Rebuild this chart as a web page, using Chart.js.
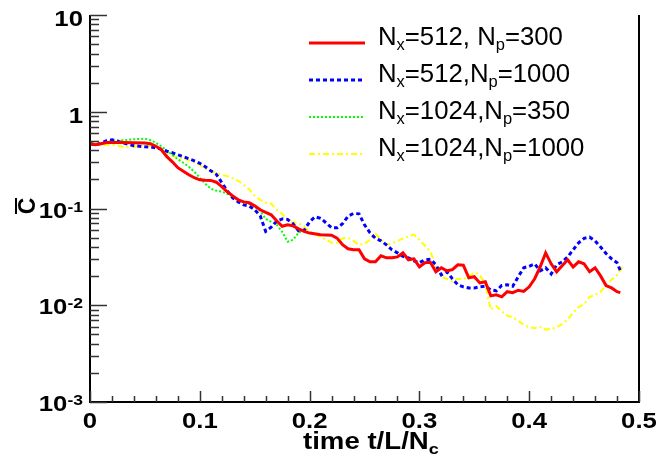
<!DOCTYPE html>
<html>
<head>
<meta charset="utf-8">
<script src="https://cdn.jsdelivr.net/npm/chart.js@4"></script>
<style>
  html, body { margin: 0; padding: 0; background: #fff; }
  #wrap { width: 659px; height: 459px; }
</style>
</head>
<body>
<div id="wrap"><canvas id="corrChart" width="659" height="459"></canvas></div>
<script>
// series labels ( _{..} = subscript )
const seriesLabels = ['N_{x}=512, N_{p}=300', 'N_{x}=512,N_{p}=1000', 'N_{x}=1024,N_{p}=350', 'N_{x}=1024,N_{p}=1000'];
const seriesColors = ['#ff0000', '#0000ff', '#00ff00', '#ffff00'];

const timeRed = [0, 0.005, 0.01, 0.015, 0.02, 0.03, 0.04, 0.05, 0.055, 0.06, 0.065, 0.07, 0.075, 0.08, 0.085, 0.09, 0.095, 0.1, 0.105, 0.11, 0.115, 0.12, 0.125, 0.13, 0.135, 0.14, 0.145, 0.15, 0.155, 0.16, 0.165, 0.17, 0.175, 0.18, 0.185, 0.19, 0.195, 0.2, 0.21, 0.22, 0.225, 0.23, 0.235, 0.24, 0.245, 0.25, 0.255, 0.26, 0.265, 0.27, 0.275, 0.28, 0.285, 0.29, 0.295, 0.3, 0.305, 0.31, 0.315, 0.32, 0.325, 0.33, 0.335, 0.34, 0.345, 0.35, 0.355, 0.36, 0.365, 0.37, 0.375, 0.38, 0.385, 0.39, 0.395, 0.4, 0.405, 0.41, 0.415, 0.42, 0.425, 0.43, 0.435, 0.44, 0.445, 0.45, 0.455, 0.46, 0.465, 0.47, 0.475, 0.48, 0.483];
const corrRed = [0.467, 0.456, 0.467, 0.48, 0.48, 0.48, 0.478, 0.474, 0.467, 0.44, 0.405, 0.343, 0.304, 0.264, 0.243, 0.223, 0.208, 0.198, 0.196, 0.195, 0.187, 0.168, 0.149, 0.135, 0.123, 0.117, 0.1145, 0.1066, 0.097, 0.0914, 0.086, 0.0746, 0.0655, 0.0678, 0.0662, 0.0617, 0.058, 0.0557, 0.0535, 0.053, 0.0494, 0.0422, 0.0383, 0.0374, 0.0374, 0.0302, 0.0281, 0.0281, 0.0324, 0.0309, 0.0309, 0.0316, 0.0348, 0.0295, 0.0302, 0.0249, 0.0275, 0.0278, 0.0222, 0.0244, 0.0227, 0.0233, 0.0262, 0.0259, 0.0192, 0.0197, 0.017, 0.0175, 0.0125, 0.0128, 0.0122, 0.0138, 0.0135, 0.0143, 0.0139, 0.0155, 0.0188, 0.0249, 0.0348, 0.0268, 0.0222, 0.0256, 0.0295, 0.0249, 0.0281, 0.0268, 0.0222, 0.0244, 0.0201, 0.016, 0.0151, 0.0138, 0.0135];

const timeBlue = [0, 0.005, 0.01, 0.015, 0.02, 0.025, 0.03, 0.035, 0.04, 0.045, 0.05, 0.055, 0.06, 0.065, 0.07, 0.075, 0.08, 0.085, 0.09, 0.095, 0.1, 0.105, 0.11, 0.115, 0.12, 0.125, 0.13, 0.135, 0.14, 0.145, 0.15, 0.155, 0.16, 0.165, 0.17, 0.175, 0.18, 0.185, 0.19, 0.195, 0.2, 0.205, 0.21, 0.215, 0.22, 0.225, 0.23, 0.235, 0.24, 0.245, 0.25, 0.255, 0.26, 0.265, 0.27, 0.275, 0.28, 0.285, 0.29, 0.295, 0.3, 0.305, 0.31, 0.315, 0.32, 0.325, 0.33, 0.335, 0.34, 0.345, 0.35, 0.355, 0.36, 0.365, 0.37, 0.375, 0.38, 0.385, 0.39, 0.395, 0.4, 0.405, 0.41, 0.415, 0.42, 0.425, 0.43, 0.435, 0.44, 0.445, 0.45, 0.455, 0.46, 0.465, 0.47, 0.475, 0.48, 0.483];
const corrBlue = [0.467, 0.456, 0.472, 0.501, 0.513, 0.496, 0.478, 0.462, 0.445, 0.44, 0.435, 0.432, 0.424, 0.41, 0.391, 0.377, 0.359, 0.343, 0.327, 0.311, 0.293, 0.27, 0.245, 0.226, 0.185, 0.152, 0.129, 0.117, 0.109, 0.106, 0.097, 0.084, 0.058, 0.064, 0.0738, 0.078, 0.077, 0.0695, 0.0588, 0.0595, 0.0729, 0.082, 0.0793, 0.0711, 0.0632, 0.0632, 0.0695, 0.083, 0.089, 0.088, 0.0678, 0.0561, 0.0492, 0.0463, 0.0421, 0.0374, 0.0348, 0.032, 0.0309, 0.0288, 0.0275, 0.0295, 0.0299, 0.0262, 0.0206, 0.0222, 0.0188, 0.0163, 0.0155, 0.0151, 0.0151, 0.0155, 0.0157, 0.0144, 0.0141, 0.016, 0.0163, 0.0157, 0.0197, 0.0244, 0.0253, 0.0268, 0.0227, 0.0244, 0.0211, 0.0262, 0.0281, 0.0316, 0.0374, 0.0442, 0.0492, 0.0505, 0.0463, 0.040, 0.0342, 0.0302, 0.0275, 0.0228];

const timeGreen = [0, 0.005, 0.01, 0.015, 0.02, 0.025, 0.03, 0.035, 0.04, 0.045, 0.05, 0.055, 0.06, 0.065, 0.07, 0.075, 0.08, 0.085, 0.09, 0.095, 0.1, 0.105, 0.11, 0.115, 0.12, 0.125, 0.13, 0.135, 0.14, 0.145, 0.15, 0.155, 0.16, 0.165, 0.17, 0.175, 0.18, 0.185, 0.19, 0.195];
const corrGreen = [0.472, 0.456, 0.467, 0.49, 0.501, 0.504, 0.507, 0.513, 0.52, 0.523, 0.526, 0.507, 0.478, 0.44, 0.395, 0.359, 0.323, 0.297, 0.27, 0.24, 0.208, 0.18, 0.16, 0.153, 0.149, 0.142, 0.132, 0.123, 0.117, 0.112, 0.104, 0.095, 0.078, 0.0729, 0.068, 0.0575, 0.0453, 0.0475, 0.0562, 0.0604];

const timeYellow = [0, 0.005, 0.01, 0.015, 0.02, 0.025, 0.03, 0.035, 0.04, 0.045, 0.05, 0.055, 0.06, 0.065, 0.07, 0.075, 0.08, 0.085, 0.09, 0.095, 0.1, 0.105, 0.11, 0.115, 0.12, 0.125, 0.13, 0.135, 0.14, 0.145, 0.15, 0.155, 0.16, 0.165, 0.17, 0.175, 0.18, 0.185, 0.19, 0.195, 0.2, 0.205, 0.21, 0.215, 0.22, 0.225, 0.23, 0.235, 0.24, 0.245, 0.25, 0.255, 0.26, 0.265, 0.27, 0.275, 0.28, 0.285, 0.29, 0.295, 0.3, 0.305, 0.31, 0.315, 0.32, 0.325, 0.33, 0.335, 0.34, 0.345, 0.35, 0.355, 0.36, 0.365, 0.37, 0.375, 0.38, 0.385, 0.39, 0.395, 0.4, 0.405, 0.41, 0.415, 0.42, 0.425, 0.43, 0.435, 0.44, 0.445, 0.45, 0.455, 0.46, 0.465, 0.47, 0.475, 0.48, 0.485];
const corrYellow = [0.472, 0.467, 0.45, 0.456, 0.456, 0.445, 0.435, 0.43, 0.435, 0.44, 0.445, 0.445, 0.435, 0.405, 0.368, 0.351, 0.339, 0.327, 0.315, 0.3, 0.283, 0.257, 0.243, 0.234, 0.223, 0.216, 0.205, 0.193, 0.176, 0.158, 0.135, 0.123, 0.1145, 0.112, 0.097, 0.088, 0.0764, 0.072, 0.071, 0.0646, 0.058, 0.054, 0.0513, 0.0476, 0.0443, 0.0443, 0.049, 0.0498, 0.0463, 0.0421, 0.0432, 0.0475, 0.0549, 0.0475, 0.0421, 0.0438, 0.0459, 0.049, 0.0513, 0.0537, 0.0475, 0.0413, 0.0358, 0.0256, 0.0195, 0.0188, 0.0176, 0.0188, 0.0186, 0.0197, 0.0219, 0.0205, 0.0166, 0.009, 0.0098, 0.0086, 0.0078, 0.0075, 0.0069, 0.0063, 0.0059, 0.0058, 0.006, 0.0056, 0.0057, 0.0059, 0.0064, 0.0071, 0.0084, 0.0096, 0.0103, 0.0122, 0.0128, 0.0138, 0.016, 0.0184, 0.0205, 0.025];

// axis ticks
const xTicks = [0, 0.1, 0.2, 0.3, 0.4, 0.5];
const xTickLabels = ['0', '0.1', '0.2', '0.3', '0.4', '0.5'];
const yDecades = [10, 1, 0.1, 0.01, 0.001];
const yTickLabels = [['10', ''], ['1', ''], ['10', '-1'], ['10', '-2'], ['10', '-3']];

const FONT = '"Liberation Sans", Arial, Helvetica, sans-serif';
const STRETCH = 1.17; // bold labels look a bit wider than Arial

function toPoints(xs, ys) {
  return xs.map((x, i) => ({ x: x, y: ys[i] }));
}

// text stretched horizontally, left aligned; returns width
function textS(ctx, t, x, y, sx) {
  ctx.save();
  ctx.translate(x, y);
  ctx.scale(sx, 1);
  ctx.fillText(t, 0, 0);
  ctx.restore();
  return ctx.measureText(t).width * sx;
}

// draw text with _{sub} parts
function drawRich(ctx, str, x, y, size, weight, sx) {
  const parts = str.split(/(_\{[^}]*\})/).filter(s => s.length);
  let cx = x;
  parts.forEach(p => {
    if (p.startsWith('_{')) {
      const t = p.slice(2, -1);
      ctx.font = weight + ' ' + Math.round(size * 0.65) + 'px ' + FONT;
      cx += textS(ctx, t, cx, y + size * 0.2, sx);
    } else {
      ctx.font = weight + ' ' + size + 'px ' + FONT;
      cx += textS(ctx, p, cx, y, sx);
    }
  });
  return cx;
}

const rootFrame = {
  id: 'rootFrame',
  afterDraw(chart) {
    const ctx = chart.ctx;
    const xs = chart.scales.x, ys = chart.scales.y;
    const a = chart.chartArea;
    ctx.save();

    // frame: left, bottom, right
    ctx.strokeStyle = '#000';
    ctx.lineWidth = 2;
    ctx.beginPath();
    ctx.moveTo(a.left, a.top);
    ctx.lineTo(a.left, a.bottom);
    ctx.lineTo(a.right, a.bottom);
    ctx.lineTo(a.right, a.top);
    ctx.stroke();

    // y ticks (inside)
    ctx.strokeStyle = '#333';
    ctx.lineWidth = 1.5;
    ctx.beginPath();
    for (let e = -3; e <= 1; e++) {
      for (let k = 1; k <= 9; k++) {
        const v = k * Math.pow(10, e);
        if (v > 10.0001) continue;
        const py = Math.round(ys.getPixelForValue(v)) + 0.5;
        const len = k === 1 ? 17 : 9;
        ctx.moveTo(a.left, py);
        ctx.lineTo(a.left + len, py);
      }
    }
    // x ticks (upwards)
    for (let i = 0; i <= 25; i++) {
      const v = i * 0.02;
      const px = Math.round(xs.getPixelForValue(v)) + 0.5;
      const len = i % 5 === 0 ? 11 : 6;
      ctx.moveTo(px, a.bottom);
      ctx.lineTo(px, a.bottom - len);
    }
    ctx.stroke();

    ctx.fillStyle = '#000';
    ctx.textAlign = 'left';
    ctx.textBaseline = 'alphabetic';
    // x tick labels
    ctx.font = 'bold 22px ' + FONT;
    xTicks.forEach((v, i) => {
      const w = ctx.measureText(xTickLabels[i]).width * STRETCH;
      textS(ctx, xTickLabels[i], xs.getPixelForValue(v) - w / 2, 428, STRETCH);
    });

    // y tick labels with exponents
    yDecades.forEach((v, i) => {
      const [base, exp] = yTickLabels[i];
      const py = ys.getPixelForValue(v);
      ctx.font = 'bold 22px ' + FONT;
      const wb = ctx.measureText(base).width * STRETCH;
      ctx.font = 'bold 15px ' + FONT;
      const we = exp ? ctx.measureText(exp).width * STRETCH : 0;
      const right = 83;
      const by = py + (exp ? 9 : 11);
      ctx.font = 'bold 22px ' + FONT;
      textS(ctx, base, right - wb - we, by, STRETCH);
      if (exp) {
        ctx.font = 'bold 15px ' + FONT;
        textS(ctx, exp, right - we, by - 6, STRETCH);
      }
    });

    // x title
    drawRich(ctx, 'time t/L/N_{c}', 303, 449, 23, 'bold', 1.2);

    // y title: C with overbar, rotated
    ctx.save();
    ctx.translate(28, 206);
    ctx.rotate(-Math.PI / 2);
    ctx.font = 'bold 23px ' + FONT;
    ctx.textAlign = 'center';
    ctx.textBaseline = 'middle';
    ctx.fillText('C', 0, 1);
    ctx.fillRect(-8, -13, 16, 2);
    ctx.restore();

    // legend
    const rowY = [43, 80, 117, 154];
    chart.data.datasets.forEach((ds, i) => {
      ctx.strokeStyle = ds.borderColor;
      ctx.lineWidth = ds.borderWidth;
      ctx.setLineDash(ds.borderDash || []);
      ctx.beginPath();
      ctx.moveTo(309, rowY[i]);
      ctx.lineTo(365, rowY[i]);
      ctx.stroke();
      ctx.setLineDash([]);
      ctx.fillStyle = '#000';
      drawRich(ctx, seriesLabels[i], 378, rowY[i] + 2, 25, 'normal', 1.03);
    });
    ctx.restore();
  }
};

const ctx = document.getElementById('corrChart').getContext('2d');
new Chart(ctx, {
  type: 'line',
  data: {
    datasets: [
      { label: seriesLabels[0], data: toPoints(timeRed, corrRed), borderColor: seriesColors[0], borderWidth: 3 },
      { label: seriesLabels[1], data: toPoints(timeBlue, corrBlue), borderColor: seriesColors[1], borderWidth: 3, borderDash: [4, 3] },
      { label: seriesLabels[2], data: toPoints(timeGreen, corrGreen), borderColor: seriesColors[2], borderWidth: 2, borderDash: [2, 2] },
      { label: seriesLabels[3], data: toPoints(timeYellow, corrYellow), borderColor: seriesColors[3], borderWidth: 2, borderDash: [6, 3, 2, 3] }
    ]
  },
  options: {
    responsive: false,
    animation: false,
    events: [],
    elements: { point: { radius: 0 }, line: { tension: 0, fill: false } },
    layout: { padding: { left: 90, right: 20, top: 15, bottom: 57 } },
    scales: {
      x: { type: 'linear', min: 0, max: 0.5, display: false },
      y: { type: 'logarithmic', min: 0.001, max: 10, display: false }
    },
    plugins: {
      legend: { display: false },
      tooltip: { enabled: false }
    }
  },
  plugins: [rootFrame]
});
</script>
</body>
</html>
